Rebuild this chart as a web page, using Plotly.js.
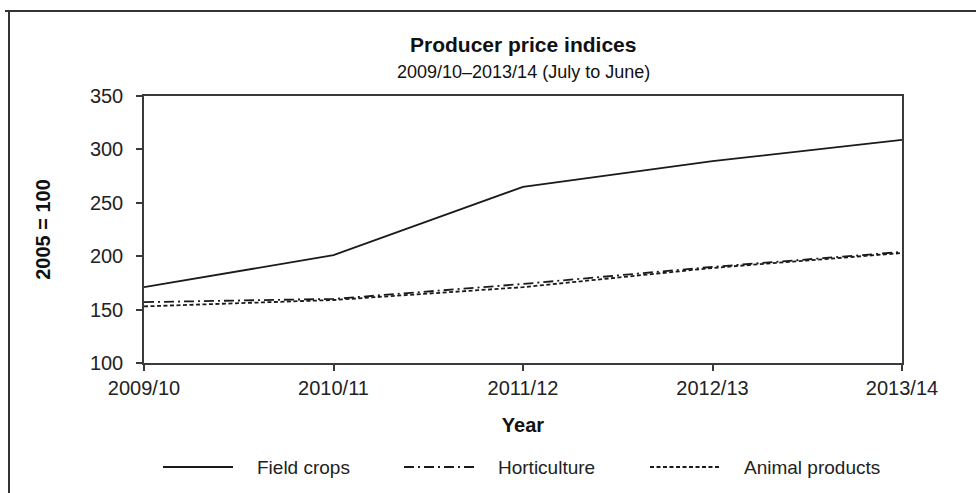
<!DOCTYPE html>
<html>
<head>
<meta charset="utf-8">
<script src="https://cdn.plot.ly/plotly-3.0.1.min.js"></script>
<style>
  html, body { margin: 0; padding: 0; background: #fff; }
  #chart { width: 976px; height: 493px; }
</style>
</head>
<body>
<div id="chart"></div>
<script>
// ---- data ----
const years = ["2009/10", "2010/11", "2011/12", "2012/13", "2013/14"];
const fieldCrops = [171, 201, 265, 289, 309];
const horticulture = [157, 160, 174, 190, 204];
const animalProducts = [153, 159, 171, 189, 203];
const seriesNames = ["Field crops", "Horticulture", "Animal products"];
const yTicks = [100, 150, 200, 250, 300, 350];

// ---- styling ----
const FONT = "Liberation Sans, Arial, sans-serif";
const INK = "#1a1a1a";
const AXIS = "#3a3a3a";
const dashes = ["solid", "10px,4px,2px,4px", "4px,2.5px"];
const seriesValues = [fieldCrops, horticulture, animalProducts];

// plot area in pixels
const W = 976, H = 493;
const L = 144, R = 902, T = 96, B = 363;
const pw = R - L, ph = B - T;
const px = x => (x - L) / pw;
const py = y => (B - y) / ph;

const traces = seriesNames.map((name, i) => ({
  type: "scatter",
  mode: "lines",
  name: name,
  x: years,
  y: seriesValues[i],
  line: { color: INK, width: 1.8, dash: dashes[i] },
  showlegend: false,
  hoverinfo: "x+y+name"
}));

// custom legend (long line samples like the reference)
const legendY = py(467);
const sampleStart = [163, 404, 650];
const sampleLen = 70;
const shapes = [];
const annotations = [];
seriesNames.forEach((name, i) => {
  shapes.push({
    type: "line", xref: "paper", yref: "paper",
    x0: px(sampleStart[i]), x1: px(sampleStart[i] + sampleLen),
    y0: legendY, y1: legendY,
    line: { color: INK, width: 1.8, dash: dashes[i] }
  });
  annotations.push({
    xref: "paper", yref: "paper",
    x: px(sampleStart[i] + sampleLen + 22), y: legendY,
    xanchor: "left", yanchor: "middle",
    text: name, showarrow: false,
    font: { family: FONT, size: 19, color: "#222" }
  });
});

// outer frame (top and left edges)
shapes.push({
  type: "line", xref: "paper", yref: "paper",
  x0: px(5), x1: px(976), y0: py(11), y1: py(11),
  line: { color: "#333", width: 2 }
});
shapes.push({
  type: "line", xref: "paper", yref: "paper",
  x0: px(9), x1: px(9), y0: py(11), y1: py(493),
  line: { color: "#333", width: 2 }
});

// titles
annotations.push({
  xref: "paper", yref: "paper", x: 0.5, y: py(45),
  xanchor: "center", yanchor: "middle", showarrow: false,
  text: "<b>Producer price indices</b>",
  font: { family: FONT, size: 21, color: "#111" }
});
annotations.push({
  xref: "paper", yref: "paper", x: 0.5, y: py(72),
  xanchor: "center", yanchor: "middle", showarrow: false,
  text: "2009/10–2013/14 (July to June)",
  font: { family: FONT, size: 18, color: "#111" }
});

const layout = {
  width: W, height: H,
  margin: { l: L, r: W - R, t: T, b: H - B, pad: 0 },
  paper_bgcolor: "#fff",
  plot_bgcolor: "#fff",
  showlegend: false,
  font: { family: FONT, size: 19, color: "#222" },
  xaxis: {
    type: "category",
    range: [0, years.length - 1],
    showgrid: false, zeroline: false,
    showline: true, mirror: true, linecolor: AXIS, linewidth: 1.5,
    ticks: "outside", ticklen: 6, tickwidth: 1.5, tickcolor: AXIS,
    tickfont: { family: FONT, size: 20, color: "#222" },
    title: { text: "<b>Year</b>", font: { family: FONT, size: 20, color: "#111" }, standoff: 20 },
    automargin: false
  },
  yaxis: {
    range: [100, 350],
    tickvals: yTicks,
    showgrid: false, zeroline: false,
    showline: true, mirror: true, linecolor: AXIS, linewidth: 1.5,
    ticks: "outside", ticklen: 6, tickwidth: 1.5, tickcolor: AXIS,
    ticklabelstandoff: 9,
    tickfont: { family: FONT, size: 20, color: "#222" },
    title: { text: "<b>2005 = 100</b>", font: { family: FONT, size: 20, color: "#111" }, standoff: 34 },
    automargin: false
  },
  shapes: shapes,
  annotations: annotations
};

Plotly.newPlot("chart", traces, layout, { displayModeBar: false, staticPlot: false });
</script>
</body>
</html>
